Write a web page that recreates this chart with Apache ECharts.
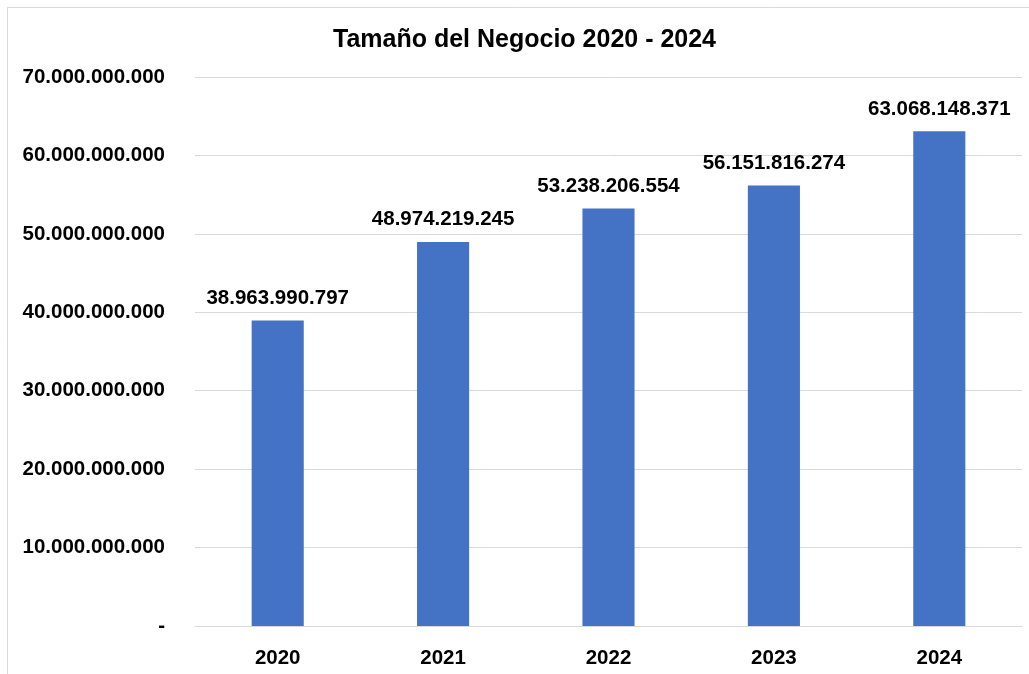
<!DOCTYPE html>
<html>
<head>
<meta charset="utf-8">
<script src="https://cdn.jsdelivr.net/npm/echarts@6/dist/echarts.min.js"></script>
<style>
html, body { margin: 0; padding: 0; background: #fff; }
#chart { width: 1029px; height: 674px; }
</style>
</head>
<body>
<div id="chart"></div>
<script>
// datos del gráfico
var years = ['2020', '2021', '2022', '2023', '2024'];
var sizes = [38963990797, 48974219245, 53238206554, 56151816274, 63068148371];
var yMin = 0;
var yMax = 70000000000;
var yStep = 10000000000;

var font = '"Liberation Sans Narrow", "Arial Narrow", "Liberation Sans", sans-serif';

function fmt(v) {
    if (v === 0) return '-';
    return String(Math.round(v)).replace(/\B(?=(\d{3})+(?!\d))/g, '.');
}

var chart = echarts.init(document.getElementById('chart'));
var option = {
    backgroundColor: '#fff',
    animation: false,
    title: {
        text: 'Tamaño del Negocio 2020 - 2024',
        left: 328,
        top: 23,
        textStyle: {
            color: '#000',
            fontFamily: font,
            fontWeight: 'bold',
            fontSize: 25
        }
    },
    graphic: [{
        type: 'rect',
        shape: { x: 7.5, y: 7.5, width: 1040, height: 700 },
        style: { fill: 'none', stroke: '#d9d9d9', lineWidth: 1 },
        silent: true
    }],
    grid: {
        left: 195,
        right: 7,
        top: 77,
        bottom: 48
    },
    xAxis: {
        type: 'category',
        data: years,
        axisTick: { show: false },
        axisLine: { lineStyle: { color: '#d9d9d9' } },
        axisLabel: {
            color: '#000',
            fontFamily: font,
            fontWeight: 'bold',
            fontSize: 20.5,
            margin: 22
        }
    },
    yAxis: {
        type: 'value',
        min: yMin,
        max: yMax,
        interval: yStep,
        axisLine: { show: false },
        axisTick: { show: false },
        splitLine: { lineStyle: { color: '#d9d9d9' } },
        axisLabel: {
            color: '#000',
            fontFamily: font,
            fontWeight: 'bold',
            fontSize: 20.5,
            margin: 30,
            formatter: fmt
        }
    },
    series: [{
        type: 'bar',
        data: sizes,
        barWidth: '31.5%',
        itemStyle: { color: '#4472C4' },
        label: {
            show: true,
            position: 'top',
            distance: 12,
            color: '#000',
            fontFamily: font,
            fontWeight: 'bold',
            fontSize: 20.5,
            formatter: function (p) { return fmt(p.value); }
        }
    }]
};
chart.setOption(option);
</script>
</body>
</html>
